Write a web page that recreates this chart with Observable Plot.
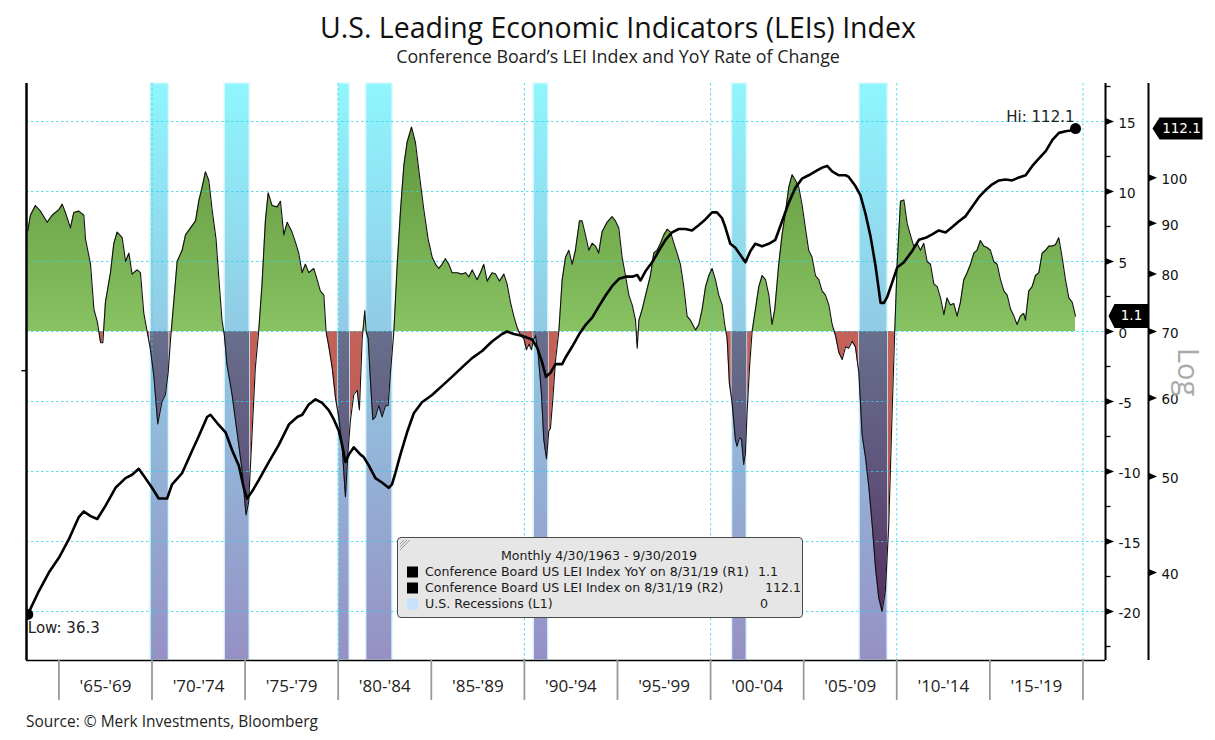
<!DOCTYPE html>
<html>
<head>
<meta charset="utf-8">
<script src="https://cdn.jsdelivr.net/npm/d3@7"></script>
<script src="https://cdn.jsdelivr.net/npm/@observablehq/plot@0.6"></script>
<style>
  body { margin: 0; background: #fff; }
  #wrap { position: relative; width: 1215px; height: 740px; overflow: hidden; background: #fff; }
  .t { position: absolute; transform: translate(-50%, -50%); white-space: nowrap; line-height: 1; font-family: "Open Sans", sans-serif; color: #111; }
  #title { font-size: 26px; }
  #subtitle { font-size: 16px; color: #222; }
  #source { position: absolute; left: 26px; top: 722px; transform: translateY(-50%); line-height: 1; font-family: "Open Sans", sans-serif; font-size: 15px; color: #222; white-space: nowrap; }
  #chart { position: absolute; left: 0; top: 70px; }
  #legend { position: absolute; left: 397px; top: 537px; width: 404px; height: 79px; background: #e6e6e6; border: 1.5px solid #4a4a4a; border-radius: 4px; font-family: "DejaVu Sans", sans-serif; font-size: 12.6px; color: #1a1a1a; }
  #legend .row { position: absolute; white-space: nowrap; line-height: 1; transform: translateY(-50%); }
  #legend .sw { position: absolute; width: 11px; height: 11px; transform: translateY(-50%); }
</style>
</head>
<body>
<div id="wrap">
  <div class="t" id="title" style="left:618px;top:27px">U.S. Leading Economic Indicators (LEIs) Index</div>
  <div class="t" id="subtitle" style="left:618px;top:57px">Conference Board’s LEI Index and YoY Rate of Change</div>
  <div id="chart"></div>
  <div id="legend"></div>
  <div id="source">Source: © Merk Investments, Bloomberg</div>
</div>
<script>
// ---------------- DATA ----------------
// Conference Board LEI YoY % change: [decimal year, value]
const yoySeries = [
[1963.33,7.2],[1963.47,8.3],[1963.74,9.0],[1964.01,8.6],[1964.37,7.8],[1964.64,8.3],[1965.00,8.7],[1965.18,9.1],
[1965.35,8.5],[1965.62,7.4],[1965.80,8.5],[1966.07,8.6],[1966.34,8.3],[1966.43,6.6],[1966.70,4.8],[1966.88,1.6],
[1967.06,0.7],[1967.24,-0.8],[1967.36,-0.8],[1967.50,2.1],[1967.77,4.2],[1967.95,6.3],[1968.13,7.1],[1968.40,6.7],
[1968.58,5.0],[1968.76,5.6],[1968.93,4.1],[1969.20,4.4],[1969.38,4.2],[1969.56,1.3],[1969.74,0.0],[1969.92,-1.3],
[1970.10,-3.2],[1970.31,-6.6],[1970.54,-5.0],[1970.72,-4.5],[1970.87,-2.9],[1971.00,-0.5],[1971.17,2.1],[1971.35,5.0],
[1971.62,5.8],[1971.80,6.9],[1972.07,7.4],[1972.34,7.9],[1972.51,9.3],[1972.69,10.3],[1972.87,11.4],[1973.05,10.8],
[1973.23,8.7],[1973.44,6.6],[1973.58,4.0],[1973.76,0.8],[1973.89,-0.3],[1974.03,-2.4],[1974.30,-4.5],[1974.56,-7.1],
[1974.83,-9.8],[1975.05,-13.1],[1975.19,-12.2],[1975.37,-7.4],[1975.55,-2.6],[1975.73,0.0],[1975.91,3.4],[1976.09,7.9],
[1976.24,9.9],[1976.45,9.0],[1976.72,8.9],[1976.90,9.3],[1977.08,6.9],[1977.26,7.8],[1977.52,7.1],[1977.70,6.4],
[1977.88,5.6],[1978.06,4.2],[1978.24,4.8],[1978.42,4.2],[1978.69,4.5],[1978.87,3.7],[1979.04,2.9],[1979.23,2.6],
[1979.35,0.0],[1979.50,-1.1],[1979.68,-2.6],[1979.86,-4.8],[1980.03,-6.1],[1980.21,-8.2],[1980.39,-11.8],[1980.53,-8.5],
[1980.66,-6.3],[1980.84,-4.5],[1981.02,-4.2],[1981.14,-5.6],[1981.29,-0.5],[1981.43,1.5],[1981.50,0.0],[1981.61,-0.5],
[1981.74,-3.7],[1981.86,-6.3],[1982.00,-6.1],[1982.18,-5.3],[1982.36,-6.1],[1982.54,-5.3],[1982.68,-5.3],[1982.81,-2.9],
[1982.99,0.0],[1983.17,4.8],[1983.35,8.7],[1983.53,11.9],[1983.70,13.5],[1983.94,14.6],[1984.15,13.5],[1984.37,11.1],
[1984.60,8.7],[1984.83,6.6],[1985.05,5.3],[1985.23,4.8],[1985.41,4.5],[1985.58,4.8],[1985.76,5.2],[1985.94,4.8],
[1986.12,4.2],[1986.39,4.2],[1986.66,4.1],[1986.84,4.2],[1987.02,3.9],[1987.20,4.4],[1987.46,3.7],[1987.64,4.2],
[1987.82,4.8],[1988.00,3.6],[1988.27,4.2],[1988.45,4.1],[1988.66,3.6],[1988.90,4.1],[1989.07,3.4],[1989.25,2.1],
[1989.43,1.1],[1989.61,0.3],[1989.79,-0.3],[1989.97,-0.5],[1990.11,-1.3],[1990.24,-0.9],[1990.38,-1.3],[1990.51,-0.5],
[1990.60,-0.3],[1990.74,-1.6],[1990.92,-4.5],[1991.04,-7.7],[1991.19,-9.1],[1991.31,-7.1],[1991.40,-6.9],[1991.53,-4.8],
[1991.67,-2.1],[1991.85,0.0],[1992.03,3.7],[1992.21,5.3],[1992.39,5.8],[1992.57,4.8],[1992.74,5.8],[1992.96,7.9],
[1993.10,7.9],[1993.28,6.9],[1993.46,5.8],[1993.64,6.3],[1993.82,6.1],[1993.99,5.6],[1994.17,7.1],[1994.44,7.8],
[1994.71,8.2],[1994.89,7.9],[1995.07,7.4],[1995.25,5.3],[1995.43,4.0],[1995.61,2.6],[1995.79,1.9],[1995.97,0.8],
[1996.06,-1.2],[1996.15,0.8],[1996.33,1.6],[1996.51,2.6],[1996.77,4.0],[1996.95,5.6],[1997.13,5.8],[1997.31,6.3],
[1997.49,6.9],[1997.67,7.3],[1997.85,7.1],[1998.03,6.3],[1998.20,5.6],[1998.38,4.8],[1998.56,3.2],[1998.74,1.1],
[1998.92,0.8],[1999.19,0.1],[1999.37,0.5],[1999.55,1.6],[1999.73,3.2],[1999.91,4.0],[2000.08,4.5],[2000.26,3.7],
[2000.44,2.6],[2000.62,1.9],[2000.76,0.5],[2000.89,-0.5],[2001.01,-3.7],[2001.15,-5.0],[2001.33,-7.7],[2001.42,-8.2],
[2001.55,-7.6],[2001.66,-7.7],[2001.78,-9.5],[2001.87,-8.7],[2001.96,-5.8],[2002.09,-2.6],[2002.23,0.0],[2002.41,1.6],
[2002.59,3.2],[2002.77,4.0],[2002.95,3.7],[2003.13,2.6],[2003.30,0.5],[2003.45,1.6],[2003.66,4.8],[2003.84,6.9],
[2004.02,8.5],[2004.20,10.3],[2004.38,11.2],[2004.56,10.8],[2004.74,10.3],[2004.92,9.0],[2005.09,7.4],[2005.27,5.8],
[2005.45,5.3],[2005.63,4.0],[2005.81,3.7],[2005.99,2.9],[2006.17,2.6],[2006.35,1.9],[2006.53,0.5],[2006.71,-0.3],
[2006.89,-1.5],[2007.07,-2.0],[2007.25,-1.1],[2007.42,-1.2],[2007.60,-0.7],[2007.78,-1.1],[2007.96,-2.9],[2008.14,-7.4],
[2008.32,-9.0],[2008.50,-11.1],[2008.68,-13.8],[2008.86,-16.9],[2009.03,-19.0],[2009.21,-20.0],[2009.39,-18.5],[2009.57,-13.8],
[2009.75,-5.8],[2009.89,0.0],[2010.02,4.8],[2010.20,9.3],[2010.38,9.4],[2010.56,7.7],[2010.73,6.9],[2010.91,6.1],
[2011.09,6.3],[2011.27,5.8],[2011.45,6.3],[2011.63,5.0],[2011.81,4.8],[2011.99,3.4],[2012.17,3.2],[2012.35,2.4],
[2012.53,1.2],[2012.70,2.4],[2012.88,1.9],[2013.06,2.0],[2013.24,1.1],[2013.42,2.1],[2013.60,3.7],[2013.78,4.2],
[2013.96,4.8],[2014.14,5.6],[2014.31,5.8],[2014.49,6.5],[2014.67,6.1],[2014.85,6.0],[2015.03,5.8],[2015.21,5.0],
[2015.39,4.8],[2015.57,3.7],[2015.75,2.9],[2015.93,2.6],[2016.11,1.6],[2016.29,1.1],[2016.46,0.5],[2016.64,1.1],
[2016.82,1.3],[2016.91,0.8],[2017.09,2.9],[2017.27,3.2],[2017.45,4.0],[2017.63,4.2],[2017.81,5.6],[2017.99,5.8],
[2018.17,6.1],[2018.35,6.1],[2018.52,6.2],[2018.70,6.7],[2018.88,5.3],[2019.06,3.7],[2019.24,2.4],[2019.42,2.1],
[2019.60,1.1]
];

// Conference Board LEI index level (log scale, right axis R2): [decimal year, value]
const leiSeries = [
[1963.33,36.3],[1963.92,38.3],[1964.46,40.0],[1965.00,41.4],[1965.53,43.2],[1966.07,45.5],[1966.34,46.1],[1966.70,45.6],
[1967.06,45.3],[1967.50,46.7],[1968.04,48.7],[1968.58,49.8],[1968.93,50.2],[1969.29,50.9],[1969.65,49.8],[1970.00,48.7],
[1970.36,47.5],[1970.81,47.5],[1971.08,49.1],[1971.62,50.4],[1972.16,53.1],[1972.51,54.9],[1972.96,57.4],[1973.14,57.7],
[1973.50,56.6],[1973.95,55.4],[1974.31,53.1],[1974.66,51.3],[1974.93,48.7],[1975.11,47.5],[1975.38,48.3],[1975.74,49.6],
[1976.27,51.7],[1976.81,53.8],[1977.35,56.4],[1977.80,57.4],[1978.07,57.7],[1978.42,59.1],[1978.78,59.8],[1979.14,59.3],
[1979.50,58.3],[1979.76,57.1],[1980.03,55.6],[1980.21,53.8],[1980.39,51.7],[1980.57,52.6],[1980.84,53.5],[1981.20,52.6],
[1981.37,52.3],[1981.64,51.3],[1982.00,49.8],[1982.35,49.3],[1982.71,48.7],[1982.89,49.1],[1983.07,50.4],[1983.34,52.6],
[1983.70,55.4],[1984.06,57.9],[1984.50,59.4],[1985.04,60.4],[1985.58,61.7],[1986.11,63.0],[1986.65,64.4],[1987.19,65.8],
[1987.73,66.9],[1988.26,68.4],[1988.80,69.6],[1989.07,70.0],[1989.43,69.6],[1989.87,69.3],[1990.41,68.7],[1990.68,67.5],
[1990.95,65.2],[1991.16,63.0],[1991.40,63.6],[1991.67,64.9],[1992.03,64.9],[1992.21,65.9],[1992.57,67.6],[1992.93,69.5],
[1993.29,71.1],[1993.64,72.3],[1994.00,74.2],[1994.36,76.1],[1994.72,77.8],[1995.08,79.1],[1995.44,79.5],[1995.79,79.5],
[1996.06,79.8],[1996.24,78.8],[1996.50,80.5],[1996.86,82.2],[1997.22,84.4],[1997.58,86.6],[1997.93,88.1],[1998.29,88.8],
[1998.65,88.8],[1999.00,88.5],[1999.36,89.6],[1999.72,90.8],[2000.08,92.3],[2000.34,92.3],[2000.61,91.1],[2000.79,89.2],
[2001.06,85.8],[2001.33,85.0],[2001.60,83.6],[2001.87,82.2],[2002.14,84.4],[2002.40,85.8],[2002.76,85.3],[2003.12,85.8],
[2003.48,86.6],[2003.84,90.4],[2004.20,94.4],[2004.55,97.7],[2004.91,99.8],[2005.27,100.6],[2005.63,101.5],[2005.99,102.4],
[2006.26,102.8],[2006.53,101.5],[2006.89,100.6],[2007.25,100.6],[2007.42,100.2],[2007.78,98.1],[2008.05,96.0],[2008.32,92.0],
[2008.59,87.3],[2008.86,81.5],[2009.13,74.8],[2009.31,74.8],[2009.48,75.8],[2009.75,78.4],[2010.02,81.2],[2010.38,82.2],
[2010.83,84.4],[2011.19,86.6],[2011.55,87.0],[2011.90,87.7],[2012.26,88.5],[2012.62,88.1],[2012.98,89.2],[2013.34,90.4],
[2013.70,91.5],[2014.05,93.5],[2014.41,95.6],[2014.77,97.2],[2015.13,98.5],[2015.49,99.4],[2015.85,99.6],[2016.20,99.4],
[2016.56,100.1],[2016.92,100.6],[2017.28,102.8],[2017.64,104.6],[2018.00,106.4],[2018.36,109.2],[2018.71,111.0],[2019.07,111.4],
[2019.34,111.6],[2019.60,112.1]
];

// U.S. recessions (L1)
const recessionStart = [1969.92, 1973.90, 1980.00, 1981.50, 1990.50, 2001.15, 2008.00];
const recessionEnd   = [1970.91, 1975.25, 1980.62, 1982.92, 1991.29, 2001.95, 2009.51];

// Axis ticks and labels
const yoyTicks = [-20, -15, -10, -5, 0, 5, 10, 15];
const yoyMinorTicks = [-22.5, -17.5, -12.5, -7.5, -2.5, 2.5, 7.5, 12.5, 17.5];
const leiTicks = [40, 50, 60, 70, 80, 90, 100];
const periodTicks = [1965, 1970, 1975, 1980, 1985, 1990, 1995, 2000, 2005, 2010, 2015, 2020];
const periodLabels = ["'65-'69", "'70-'74", "'75-'79", "'80-'84", "'85-'89", "'90-'94", "'95-'99", "'00-'04", "'05-'09", "'10-'14", "'15-'19"];
const gridYears = [1970, 1980, 1990, 2000, 2010, 2020];
const lastYoY = 1.1, lastLEI = 112.1, lowLEI = 36.3;

// ---------------- BUILD ----------------
const xDomain = [1963.26, 2021.21];
const yDomain = [-23.5, 17.714];
const K = 992 / 14;                       // R2 log axis: px per decade / px per YoY unit
const leiY = v => Math.log10(v / 70) * K; // map LEI onto the R1 coordinate (70 ↔ 0)

const yoy = yoySeries.map(([x, v]) => ({x, v}));
const lei = leiSeries.map(([x, v]) => ({x, v}));
const recessions = recessionStart.map((s, i) => ({s, e: recessionEnd[i]}));

function withCrossings(pts) {
  const out = [pts[0]];
  for (let i = 1; i < pts.length; i++) {
    const a = pts[i - 1], b = pts[i];
    if ((a.v < 0 && b.v > 0) || (a.v > 0 && b.v < 0)) {
      const t = a.v / (a.v - b.v);
      out.push({x: a.x + t * (b.x - a.x), v: 0});
    }
    out.push(b);
  }
  return out;
}
const yc = withCrossings(yoy);
function interp(x) {
  for (let i = 1; i < yc.length; i++) {
    if (yc[i].x >= x) {
      const a = yc[i - 1], b = yc[i];
      return a.v + (b.v - a.v) * (x - a.x) / (b.x - a.x);
    }
  }
  return yc[yc.length - 1].v;
}
const recSeg = recessions.flatMap((r, k) => {
  const pts = [{x: r.s, v: interp(r.s)}, ...yc.filter(p => p.x > r.s && p.x < r.e), {x: r.e, v: interp(r.e)}];
  return pts.map(p => ({...p, k}));
});

const triRight = {draw(c) { c.moveTo(0, -3.6); c.lineTo(8.5, 0); c.lineTo(0, 3.6); c.closePath(); }};
const tickRight = {draw(c) { c.moveTo(0, 0); c.lineTo(5, 0); }};
const tickLeft = {draw(c) { c.moveTo(-5, 0); c.lineTo(0, 0); }};
const tagSym = (t, w, h) => ({draw(c) { c.moveTo(0, 0); c.lineTo(t, -h / 2); c.lineTo(t + w, -h / 2); c.lineTo(t + w, h / 2); c.lineTo(t, h / 2); c.closePath(); }});

const yPxPerUnit = 577 / (yDomain[1] - yDomain[0]);
const tickLen = 40 / yPxPerUnit;
const grid = "#2fd3ea";
const axisFont = "DejaVu Sans";

const chart = Plot.plot({
  width: 1215,
  height: 640,
  marginTop: 13,
  marginBottom: 50,
  marginLeft: 26,
  marginRight: 110,
  x: {domain: xDomain, axis: null},
  y: {domain: yDomain, axis: null},
  style: {fontFamily: axisFont, fontSize: "13.5px", background: "transparent", overflow: "visible", color: "#111"},
  marks: [
    // YoY area (green above zero, red below)
    Plot.area(yc, {x1: "x", y1: 0, y2: d => Math.max(0, d.v), fill: "url(#gGreen)"}),
    Plot.area(yc, {x1: "x", y1: 0, y2: d => Math.min(0, d.v), fill: "url(#gRed)"}),
    // recession bars
    Plot.rect(recessions, {x1: "s", x2: "e", fill: "url(#gBar)", stroke: "#dcf7fd", strokeWidth: 1.5}),
    // negative YoY within recessions
    Plot.area(recSeg, {x1: "x", y1: 0, y2: d => Math.min(0, d.v), z: "k", fill: "url(#gDark)"}),
    // dotted grid
    Plot.ruleY(yoyTicks, {stroke: grid, strokeOpacity: 0.8, strokeDasharray: "2.5,2.5", strokeWidth: 1}),
    Plot.ruleX(gridYears, {stroke: grid, strokeOpacity: 0.8, strokeDasharray: "2.5,2.5", strokeWidth: 1}),
    // YoY outline and LEI line
    Plot.line(yc, {x: "x", y: "v", stroke: "#111", strokeWidth: 1.1}),
    Plot.line(lei, {x: "x", y: d => leiY(d.v), stroke: "#000", strokeWidth: 2.6, strokeLinejoin: "round"}),
    // frame
    Plot.ruleX([xDomain[0]], {stroke: "#000", strokeWidth: 2.5}),
    Plot.ruleY([yDomain[0]], {stroke: "#000", strokeWidth: 1.6}),
    Plot.ruleX([xDomain[1]], {stroke: "#000", strokeWidth: 2}),
    Plot.ruleX([xDomain[1]], {dx: 43, stroke: "#000", strokeWidth: 2}),
    // bottom period ticks and labels
    Plot.ruleX(periodTicks, {y1: yDomain[0], y2: yDomain[0] - tickLen, stroke: "#9a9a9a", strokeWidth: 1.8}),
    Plot.text(periodLabels, {x: (d, i) => periodTicks[i] + 2.5, frameAnchor: "bottom", dy: 31, text: d => d, fontSize: 17, fontFamily: "Open Sans", fill: "#222"}),
    // left L1 tick
    Plot.dot([-2.8], {y: d => d, frameAnchor: "left", symbol: tickLeft, r: 1, stroke: "#000", strokeWidth: 1.5, fill: "none"}),
    // R1 axis
    Plot.dot(yoyTicks, {y: d => d, frameAnchor: "right", symbol: triRight, r: 1, fill: "#000", stroke: "none"}),
    Plot.dot(yoyMinorTicks, {y: d => d, frameAnchor: "right", symbol: tickRight, r: 1, stroke: "#000", strokeWidth: 1.3, fill: "none"}),
    Plot.text(yoyTicks, {y: d => d, frameAnchor: "right", dx: 13, dy: 2, textAnchor: "start", text: d => String(d), fill: "#111"}),
    // R2 axis (log)
    Plot.dot(leiTicks, {y: leiY, frameAnchor: "right", dx: 43, symbol: triRight, r: 1, fill: "#000", stroke: "none"}),
    Plot.text(leiTicks, {y: leiY, frameAnchor: "right", dx: 56, dy: 2, textAnchor: "start", text: d => String(d), fill: "#111"}),
    Plot.text(["Log"], {y: -2.9, frameAnchor: "right", dx: 82, rotate: 90, textAnchor: "middle", text: d => d, fontSize: 29, fontFamily: "Open Sans", fill: "#a9a9a9"}),
    // last value tags
    Plot.dot([lastLEI], {y: leiY, frameAnchor: "right", dx: 47, symbol: tagSym(7, 43, 22), r: 1, fill: "#000", stroke: "none"}),
    Plot.text([lastLEI], {y: leiY, frameAnchor: "right", dx: 76, textAnchor: "middle", text: d => d.toFixed(1), fill: "#fff"}),
    Plot.dot([lastYoY], {y: d => d, frameAnchor: "right", dx: 3, symbol: tagSym(6, 34, 24), r: 1, fill: "#000", stroke: "none"}),
    Plot.text([lastYoY], {y: d => d, frameAnchor: "right", dx: 26, textAnchor: "middle", text: d => d.toFixed(1), fill: "#fff"}),
    // Hi / Low markers
    Plot.dot([lei[lei.length - 1]], {x: "x", y: d => leiY(d.v), r: 5.5, fill: "#000"}),
    Plot.text([lei[lei.length - 1]], {x: "x", y: d => leiY(d.v), dx: -1, dy: -11, textAnchor: "end", text: () => "Hi: " + lastLEI.toFixed(1), fontSize: 15, fill: "#222"}),
    Plot.dot([lei[0]], {x: "x", y: d => leiY(d.v), r: 5.5, fill: "#000", clip: true}),
    Plot.text([lei[0]], {x: "x", y: d => leiY(d.v), dy: 14, textAnchor: "start", text: () => "Low: " + lowLEI.toFixed(1), fontSize: 15, fill: "#222"})
  ]
});

// gradients (positioned with the chart's own y scale)
const ys = chart.scale("y");
const y0 = ys.apply(0), yTop = ys.apply(yDomain[1]), yBot = ys.apply(yDomain[0]), yM20 = ys.apply(-20);
const defs = d3.select(chart).insert("defs", ":first-child");
function grad(id, ya, yb, stops) {
  const g = defs.append("linearGradient").attr("id", id).attr("gradientUnits", "userSpaceOnUse")
    .attr("x1", 0).attr("x2", 0).attr("y1", ya).attr("y2", yb);
  stops.forEach(([o, c]) => g.append("stop").attr("offset", o).attr("stop-color", c));
}
grad("gBar", yTop, yBot, [[0, "#8ff6fd"], [1, "#9690c4"]]);
grad("gGreen", yTop, y0, [[0, "#588d35"], [1, "#88c262"]]);
grad("gRed", y0, yBot, [[0, "#c4625a"], [1, "#b24e48"]]);
grad("gDark", y0, yM20, [[0, "#686f8c"], [0.5, "#60557c"], [1, "#55305e"]]);

document.getElementById("chart").appendChild(chart);

// legend
const legend = document.getElementById("legend");
function addRow(text, left, cy, extra) {
  const d = document.createElement("div");
  d.className = "row"; d.textContent = text;
  d.style.left = left + "px"; d.style.top = cy + "px";
  if (extra) Object.assign(d.style, extra);
  legend.appendChild(d);
}
function addSwatch(color, left, cy) {
  const s = document.createElement("div");
  s.className = "sw"; s.style.background = color; s.style.left = left + "px"; s.style.top = cy + "px";
  legend.appendChild(s);
}
// coordinates relative to legend box (box at 397,537)
addRow("Monthly 4/30/1963 - 9/30/2019", 201, 18, {transform: "translate(-50%,-50%)"});
addSwatch("#000", 9, 34); addRow("Conference Board US LEI Index YoY on 8/31/19 (R1)", 27, 34); addRow("1.1", 360, 34);
addSwatch("#000", 9, 50); addRow("Conference Board US LEI Index on 8/31/19 (R2)", 27, 50); addRow("112.1", 367, 50);
addSwatch("#c6e2fa", 9, 66); addRow("U.S. Recessions (L1)", 27, 66); addRow("0", 362, 66);
legend.insertAdjacentHTML("beforeend",
  '<svg width="12" height="12" style="position:absolute;left:1px;top:1px"><g stroke="#888" stroke-width="0.8">' +
  '<line x1="1" y1="5" x2="5" y2="1"/><line x1="1" y1="8" x2="8" y2="1"/><line x1="1" y1="11" x2="11" y2="1"/></g></svg>');

// fit title texts to the reference widths
function fitWidth(id, target) {
  const el = document.getElementById(id);
  const w = el.getBoundingClientRect().width;
  const fs = parseFloat(getComputedStyle(el).fontSize);
  el.style.fontSize = (fs * target / w) + "px";
}
fitWidth("title", 596);
fitWidth("subtitle", 444);
fitWidth("source", 292);
</script>
</body>
</html>
